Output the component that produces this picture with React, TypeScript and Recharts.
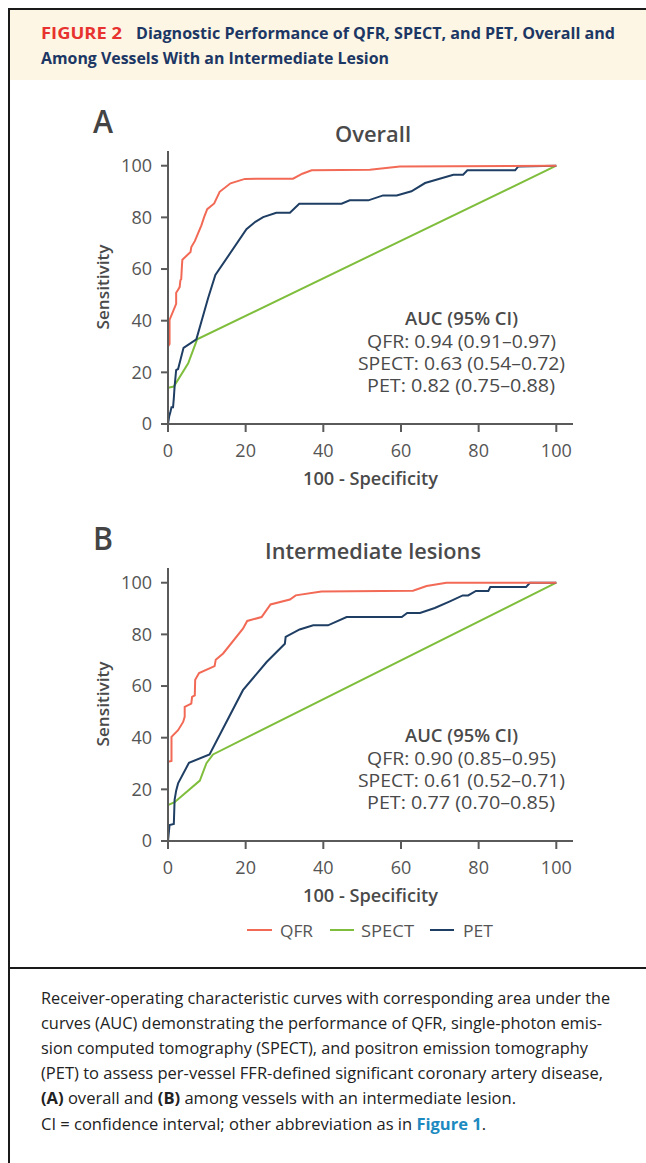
import React from 'react';
import { LineChart, Line, XAxis, YAxis } from 'recharts';

// ---------- data ----------
const seriesNames = ['QFR', 'SPECT', 'PET'];
const seriesColors = ['#F26A56', '#7FBE3C', '#1F3E64'];
const xTicks = [0, 20, 40, 60, 80, 100];
const yTicks = [0, 20, 40, 60, 80, 100];

// Panel A: Overall  [100 - specificity, sensitivity]
const qfrOverall: [number, number][] = [
  [0, 0], [0, 30], [0.4, 31], [0.4, 40.3], [2.1, 46.5], [2.1, 50.8], [2.6, 52], [3.0, 53],
  [3.2, 55.7], [3.4, 56], [3.6, 61.5], [3.7, 63.6], [5.8, 66.6], [6.0, 68.5], [6.9, 70.8],
  [8.6, 76.9], [9.3, 80.1], [10.1, 83.2], [11.9, 85.4], [13.3, 89.9], [16.1, 93.2],
  [19.8, 94.9], [32.2, 95.0], [34.6, 96.9], [37.0, 98.2], [52.0, 98.4], [59.7, 99.7], [100, 100],
];
const spectOverall: [number, number][] = [
  [0, 0], [0, 14], [1.5, 14.5], [5.2, 23.5], [7.5, 32.8], [100, 100],
];
const petOverall: [number, number][] = [
  [0, 0], [0.3, 2.9], [0.6, 4.5], [0.9, 6.5], [1.3, 6.5], [1.5, 10], [1.7, 14.5], [2.1, 20.9],
  [2.6, 21.3], [4.0, 29.5], [7.3, 32.8], [10.3, 48.6], [12.2, 57.7], [20.2, 75.4], [22.5, 78.3],
  [24.5, 80.1], [27.9, 81.8], [31.4, 81.8], [33.8, 85.3], [44.7, 85.3], [46.8, 86.6], [51.6, 86.6],
  [55.4, 88.5], [58.9, 88.5], [62.7, 90.1], [66.2, 93.3], [73.5, 96.5], [76.0, 96.5], [77.1, 98.2],
  [89.4, 98.2], [90.2, 99.7], [100, 100],
];

// Panel B: Intermediate lesions
const qfrIntermediate: [number, number][] = [
  [0, 0], [0, 30.7], [0.9, 31], [0.9, 40.3], [2.6, 42.9], [3.9, 46.1], [4.3, 48.1], [4.3, 51.9],
  [6.0, 53.2], [6.2, 55.8], [6.9, 56.4], [7.0, 62.4], [8.0, 65.0], [12.0, 67.7], [12.3, 70.2],
  [14.2, 72.6], [19.3, 82.2], [20.4, 85.2], [24.1, 86.7], [26.4, 91.6], [31.4, 93.5], [32.9, 95.1],
  [39.5, 96.6], [63.1, 96.9], [66.6, 98.7], [71.7, 100], [100, 100],
];
const spectIntermediate: [number, number][] = [
  [0, 0], [0, 13.9], [1.7, 15.0], [8.2, 23.4], [9.9, 30.1], [11.6, 33.5], [100, 100],
];
const petIntermediate: [number, number][] = [
  [0, 0], [0.2, 3], [0.4, 6.2], [1.5, 6.6], [1.7, 15.9], [2.1, 19.5], [2.6, 22.3], [5.4, 30.3],
  [10.7, 33.5], [19.3, 58.4], [25.4, 69.3], [30.1, 76.4], [30.3, 79.0], [33.9, 81.9], [37.4, 83.5],
  [41.2, 83.5], [46.0, 86.7], [60.2, 86.7], [61.6, 88.3], [64.9, 88.3], [68.7, 90.2], [72.6, 92.8],
  [75.9, 95.1], [77.3, 95.1], [79.3, 96.8], [82.5, 96.8], [83.0, 98.3], [92.2, 98.3], [93.2, 100],
  [100, 100],
];

const aucHeader = 'AUC (95% CI)';
const aucOverall = ['QFR: 0.94 (0.91–0.97)', 'SPECT: 0.63 (0.54–0.72)', 'PET: 0.82 (0.75–0.88)'];
const aucIntermediate = ['QFR: 0.90 (0.85–0.95)', 'SPECT: 0.61 (0.52–0.71)', 'PET: 0.77 (0.70–0.85)'];

// ---------- styles ----------
const AXIS = '#5a5a5a';
const TXT = '#4a4a4a';
const CHART_FONT = '"Open Sans", "Noto Sans", sans-serif';
const COND_FONT = '"Liberation Sans Narrow", "Open Sans", sans-serif';

const toPts = (arr: [number, number][]) => arr.map(([x, y]) => ({ x, y }));

function RocChart({ top, qfr, spect, pet }: { top: number; qfr: [number, number][]; spect: [number, number][]; pet: [number, number][] }) {
  const series = [
    { name: seriesNames[1], color: seriesColors[1], data: toPts(spect) },
    { name: seriesNames[2], color: seriesColors[2], data: toPts(pet) },
    { name: seriesNames[0], color: seriesColors[0], data: toPts(qfr) },
  ];
  return (
    <div style={{ position: 'absolute', left: 0, top, width: 646, height: 400 }}>
      <LineChart width={646} height={400} margin={{ top: 51, right: 73, bottom: 26, left: 108 }}>
        <XAxis
          type="number"
          dataKey="x"
          domain={[0, 104.3]}
          ticks={xTicks}
          interval={0}
          allowDataOverflow
          height={50}
          tickSize={8}
          tickMargin={12}
          axisLine={{ stroke: AXIS, strokeWidth: 2 }}
          tickLine={{ stroke: AXIS, strokeWidth: 2 }}
          tick={{ fill: '#555', fontSize: 18, fontFamily: CHART_FONT }}
        />
        <YAxis
          type="number"
          domain={[0, 105.7]}
          ticks={yTicks}
          interval={0}
          allowDataOverflow
          width={60}
          tickSize={7}
          tickMargin={9}
          axisLine={{ stroke: AXIS, strokeWidth: 2 }}
          tickLine={{ stroke: AXIS, strokeWidth: 2 }}
          tick={{ fill: '#555', fontSize: 18, fontFamily: CHART_FONT }}
        />
        {series.map((s) => (
          <Line
            key={s.name}
            name={s.name}
            data={s.data}
            dataKey="y"
            type="linear"
            stroke={s.color}
            strokeWidth={2}
            dot={false}
            activeDot={false}
            isAnimationActive={false}
          />
        ))}
      </LineChart>
    </div>
  );
}

function PanelTexts({ axisY, letter, title, titleLen, auc }: { axisY: number; letter: string; title: string; titleLen: number; auc: string[] }) {
  // positions relative to the x-axis baseline (axisY)
  const aucLeft = [367, 358, 367];
  const aucLen = [189, 207, 188];
  return (
    <g fontFamily={CHART_FONT} fill={TXT}>
      <text x={93} y={axisY - 304} fontSize={32} fontWeight={600} dominantBaseline="central" fill="#444" textLength={20} lengthAdjust="spacingAndGlyphs">{letter}</text>
      <text x={373 - titleLen / 2} y={axisY - 291} fontSize={22} fontWeight={600} dominantBaseline="central" textLength={titleLen} lengthAdjust="spacingAndGlyphs">{title}</text>
      <text transform={`translate(102, ${axisY - 137}) rotate(-90)`} x={-42.5} y={0} fontSize={17} fontWeight={600} dominantBaseline="central" textLength={85} lengthAdjust="spacingAndGlyphs">Sensitivity</text>
      <text x={303} y={axisY + 54} fontSize={18} fontWeight={600} dominantBaseline="central" textLength={135} lengthAdjust="spacingAndGlyphs">100 - Specificity</text>
      <text x={405} y={axisY - 106} fontSize={18} fontWeight={600} dominantBaseline="central" textLength={113} lengthAdjust="spacingAndGlyphs">{aucHeader}</text>
      {auc.map((t, i) => (
        <text key={t} x={aucLeft[i]} y={axisY - 83.5 + i * 22.3} fontSize={18} dominantBaseline="central" textLength={aucLen[i]} lengthAdjust="spacingAndGlyphs">{t}</text>
      ))}
    </g>
  );
}

export default function App() {
  const legendItems = [
    { line: [247, 272], text: 280, len: 33 },
    { line: [330, 354], text: 361, len: 53 },
    { line: [430, 454], text: 463, len: 30 },
  ];
  const captionLines: { y: number; len: number; parts: { t: string; b?: boolean; c?: string }[] }[] = [
    { y: 998, len: 569, parts: [{ t: 'Receiver-operating characteristic curves with corresponding area under the' }] },
    { y: 1023, len: 561, parts: [{ t: 'curves (AUC) demonstrating the performance of QFR, single-photon emis-' }] },
    { y: 1048, len: 547, parts: [{ t: 'sion computed tomography (SPECT), and positron emission tomography' }] },
    { y: 1073, len: 562, parts: [{ t: '(PET) to assess per-vessel FFR-defined significant coronary artery disease,' }] },
    { y: 1098, len: 475, parts: [{ t: '(A)', b: true }, { t: ' overall and ' }, { t: '(B)', b: true }, { t: ' among vessels with an intermediate lesion.' }] },
    { y: 1124, len: 445, parts: [{ t: 'CI = confidence interval; other abbreviation as in ' }, { t: 'Figure 1', b: true, c: '#1C8AC0' }, { t: '.' }] },
  ];
  return (
    <div style={{ position: 'absolute', left: 0, top: 0, width: 646, height: 1163, background: '#fff', overflow: 'hidden' }}>
      {/* frame */}
      <div style={{ position: 'absolute', left: 8, top: 8, width: 700, height: 1200, borderTop: '2px solid #1a1a1a', borderLeft: '2px solid #1a1a1a' }} />
      <div style={{ position: 'absolute', left: 10, top: 10, width: 636, height: 70, background: '#FDF6E4' }} />
      <div style={{ position: 'absolute', left: 8, top: 967, width: 640, height: 2, background: '#1a1a1a' }} />

      <RocChart top={100} qfr={qfrOverall} spect={spectOverall} pet={petOverall} />
      <RocChart top={517} qfr={qfrIntermediate} spect={spectIntermediate} pet={petIntermediate} />

      <svg width={646} height={1163} style={{ position: 'absolute', left: 0, top: 0, pointerEvents: 'none' }}>
        {/* header */}
        <g fontFamily={COND_FONT} fontWeight={700} fontSize={16}>
          <text x={41} y={33} fill="#E8322F" dominantBaseline="central" textLength={81} lengthAdjust="spacingAndGlyphs">FIGURE 2</text>
          <text x={136} y={33} fill="#1C3764" dominantBaseline="central" textLength={479} lengthAdjust="spacingAndGlyphs">Diagnostic Performance of QFR, SPECT, and PET, Overall and</text>
          <text x={41} y={58} fill="#1C3764" dominantBaseline="central" textLength={348} lengthAdjust="spacingAndGlyphs">Among Vessels With an Intermediate Lesion</text>
        </g>

        <PanelTexts axisY={424} letter="A" title="Overall" titleLen={76} auc={aucOverall} />
        <PanelTexts axisY={841} letter="B" title="Intermediate lesions" titleLen={216} auc={aucIntermediate} />

        {/* legend */}
        <g fontFamily={CHART_FONT} fontSize={17} fill="#555">
          {legendItems.map((it, i) => (
            <g key={seriesNames[i]}>
              <line x1={it.line[0]} x2={it.line[1]} y1={930} y2={930} stroke={seriesColors[i]} strokeWidth={2} />
              <text x={it.text} y={930} dominantBaseline="central" textLength={it.len} lengthAdjust="spacingAndGlyphs">{seriesNames[i]}</text>
            </g>
          ))}
        </g>

        {/* caption */}
        <g fontFamily={COND_FONT} fontSize={16} fill="#222">
          {captionLines.map((ln) => (
            <text key={ln.y} x={41} y={ln.y} dominantBaseline="central" textLength={ln.len} lengthAdjust="spacingAndGlyphs">
              {ln.parts.map((p, j) => (
                <tspan key={j} fontWeight={p.b ? 700 : 400} fill={p.c || '#222'}>{p.t}</tspan>
              ))}
            </text>
          ))}
        </g>
      </svg>
    </div>
  );
}
